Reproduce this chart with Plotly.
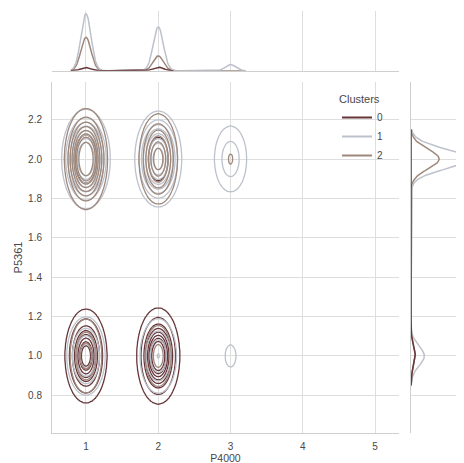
import numpy as np
import plotly.graph_objects as go

# ---------------- data ----------------
clusters = ["0", "1", "2"]
cell_p4000 = [1, 2, 3, 1, 2, 3]
cell_p5361 = [2, 2, 2, 1, 1, 1]
counts_c0 = [6, 5, 0, 80, 95, 0]
counts_c1 = [1280, 980, 140, 290, 230, 30]
counts_c2 = [800, 350, 14, 120, 60, 0]
x_ticks = [1, 2, 3, 4, 5]
y_ticks = [0.8, 1.0, 1.2, 1.4, 1.6, 1.8, 2.0, 2.2]

counts = {"0": counts_c0, "1": counts_c1, "2": counts_c2}
colors = {"0": "#66363a", "1": "#bcc1cb", "2": "#9e887c"}
joint_bw = {"0": (0.11, 0.09), "1": (0.12, 0.09), "2": (0.105, 0.09)}
marg_bw_x = 0.07
marg_bw_y = 0.05

cx = np.array(cell_p4000, float)
cy = np.array(cell_p5361, float)
n_total = sum(sum(v) for v in counts.values())


def quantile_to_level(data, quantile):
    values = np.ravel(data)
    sorted_values = np.sort(values)[::-1]
    normalized = np.cumsum(sorted_values) / values.sum()
    idx = np.searchsorted(normalized, 1 - np.asarray(quantile))
    return np.take(sorted_values, idx, mode="clip")


gx = np.linspace(0.45, 3.6, 330)
gy = np.linspace(0.5, 2.5, 260)
GX, GY = np.meshgrid(gx, gy)
isoprop = np.linspace(0.05, 1, 10)

fig = go.Figure()

# joint KDE contours (levels per cluster)
for k in clusters:
    w = np.array(counts[k], float)
    sx, sy = joint_bw[k]
    dens = np.zeros_like(GX)
    for xi, yi, wi in zip(cx, cy, w):
        if wi > 0:
            dens += wi * np.exp(-0.5 * (((GX - xi) / sx) ** 2 + ((GY - yi) / sy) ** 2))
    dens /= w.sum() * 2 * np.pi * sx * sy
    lv = quantile_to_level(dens, isoprop)[:9]
    zt = np.interp(dens, np.r_[0.0, lv], np.arange(-1, len(lv)))
    fig.add_trace(go.Contour(
        x=gx, y=gy, z=zt,
        contours=dict(start=0, end=len(lv) - 1, size=1, coloring="lines"),
        colorscale=[[0, colors[k]], [1, colors[k]]],
        line=dict(width=1.3), showscale=False, hoverinfo="skip",
        showlegend=False, xaxis="x", yaxis="y",
    ))

# marginal KDEs (common norm)
top_max = 0
right_max = 0
marg = []
for k in clusters:
    w = np.array(counts[k], float)
    xs_data = cx[w > 0]
    ys_data = cy[w > 0]
    xs = np.linspace(xs_data.min() - 3 * marg_bw_x, xs_data.max() + 3 * marg_bw_x, 400)
    ys = np.linspace(ys_data.min() - 3 * marg_bw_y, ys_data.max() + 3 * marg_bw_y, 400)
    dx = np.zeros_like(xs)
    dy = np.zeros_like(ys)
    for xi, yi, wi in zip(cx, cy, w):
        dx += wi * np.exp(-0.5 * ((xs - xi) / marg_bw_x) ** 2) / (marg_bw_x * np.sqrt(2 * np.pi))
        dy += wi * np.exp(-0.5 * ((ys - yi) / marg_bw_y) ** 2) / (marg_bw_y * np.sqrt(2 * np.pi))
    dx /= n_total
    dy /= n_total
    top_max = max(top_max, dx.max())
    right_max = max(right_max, dy.max())
    marg.append((k, xs, dx, ys, dy))

for k, xs, dx, ys, dy in reversed(marg):
    fig.add_trace(go.Scatter(x=xs, y=dx, mode="lines", line=dict(color=colors[k], width=1.5),
                             xaxis="x2", yaxis="y2", showlegend=False, hoverinfo="skip"))
    fig.add_trace(go.Scatter(x=dy, y=ys, mode="lines", line=dict(color=colors[k], width=1.5),
                             xaxis="x3", yaxis="y3", showlegend=False, hoverinfo="skip"))

# legend entries
for k in clusters:
    fig.add_trace(go.Scatter(x=[None], y=[None], mode="lines", name=k,
                             line=dict(color=colors[k], width=2), xaxis="x", yaxis="y"))

grid_c = "#dedede"
spine_c = "#cfcfcf"
font_c = "#474747"
fam = "Liberation Sans, Arial, sans-serif"

fig.update_layout(
    width=464, height=463,
    margin=dict(l=44, r=0, t=3, b=38, pad=0),
    paper_bgcolor="white", plot_bgcolor="white",
    font=dict(family=fam, size=10, color=font_c),
    xaxis=dict(domain=[0.0, 0.8262], range=[0.53, 5.33], tickvals=x_ticks,
               showgrid=True, gridcolor=grid_c, gridwidth=1, zeroline=False,
               showline=True, linecolor=spine_c, linewidth=1, ticks="", ticklen=0,
               ticklabelstandoff=4, automargin=False,
               title=dict(text="P4000", font=dict(size=10.5, color=font_c), standoff=0),
               anchor="y"),
    yaxis=dict(domain=[0.0, 0.8318], range=[0.609, 2.391], tickvals=y_ticks,
               ticktext=[f"{v:.1f}" for v in y_ticks],
               showgrid=True, gridcolor=grid_c, gridwidth=1, zeroline=False,
               showline=True, linecolor=spine_c, linewidth=1, ticks="", ticklen=0,
               ticklabelstandoff=7, automargin=False,
               title=dict(text="P5361", font=dict(size=11, color=font_c), standoff=3),
               anchor="x"),
    xaxis2=dict(domain=[0.0, 0.8262], range=[0.53, 5.33], tickvals=x_ticks,
                showticklabels=False, showgrid=True, gridcolor=grid_c, zeroline=False,
                showline=True, linecolor=spine_c, linewidth=1, ticks="", anchor="y2",
                automargin=False),
    yaxis2=dict(domain=[0.8585, 1.0], range=[0, top_max * 1.05], showticklabels=False,
                showgrid=False, zeroline=False, showline=False, ticks="", anchor="x2",
                automargin=False),
    xaxis3=dict(domain=[0.8548, 1.0], range=[0, right_max * 1.05], showticklabels=False,
                showgrid=False, zeroline=False, showline=False, ticks="", anchor="y3",
                automargin=False),
    yaxis3=dict(domain=[0.0, 0.8318], range=[0.609, 2.391], tickvals=y_ticks,
                showticklabels=False, showgrid=True, gridcolor=grid_c, zeroline=False,
                showline=True, linecolor=spine_c, linewidth=1, ticks="", anchor="x3",
                automargin=False),
    legend=dict(title=dict(text="Clusters", font=dict(size=11, color=font_c)),
                x=0.6786, y=0.8159, xanchor="left", yanchor="top",
                bgcolor="rgba(0,0,0,0)", borderwidth=0,
                font=dict(size=10, color=font_c), tracegroupgap=0, itemwidth=30),
    showlegend=True,
)

fig.write_html("out.html")
